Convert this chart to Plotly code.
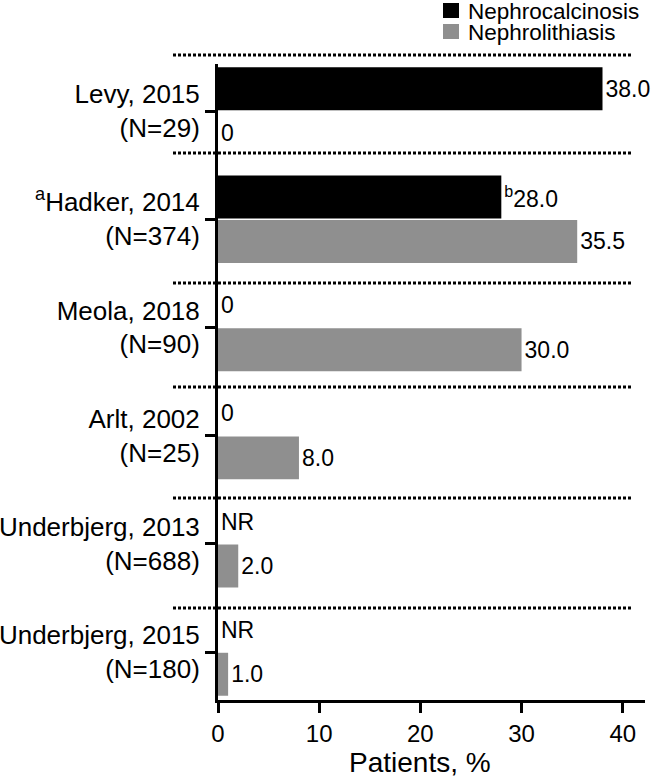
import plotly.graph_objects as go

# ---- data ----
studies = ["Levy, 2015<br>(N=29)", "<sup>a</sup>Hadker, 2014<br>(N=374)", "Meola, 2018<br>(N=90)",
           "Arlt, 2002<br>(N=25)", "Underbjerg, 2013<br>(N=688)", "Underbjerg, 2015<br>(N=180)"]
nephrocalcinosis = [38.0, 28.0, 0.0, 0.0, None, None]   # None = not reported
nephrolithiasis = [0.0, 35.5, 30.0, 8.0, 2.0, 1.0]
labels_calc = ["38.0", "<sup>b</sup>28.0", "0", "0", "NR", "NR"]
labels_lith = ["0", "35.5", "30.0", "8.0", "2.0", "1.0"]
x_ticks = [0, 10, 20, 30, 40]
series_names = ["Nephrocalcinosis", "Nephrolithiasis"]
series_colors = ["#000000", "#8f8f8f"]

FONT = "Liberation Sans, Arial, Helvetica, sans-serif"
W, H = 654, 778
ML, MR, MT, MB = 218, 9, 64, 78

fig = go.Figure()
for name, vals, labs, col in [(series_names[0], nephrocalcinosis, labels_calc, series_colors[0]),
                              (series_names[1], nephrolithiasis, labels_lith, series_colors[1])]:
    fig.add_trace(go.Bar(
        y=studies, x=[v if v is not None else 0 for v in vals], orientation="h",
        name=name, marker=dict(color=col, line=dict(width=0)),
        text=labs, textposition="outside", constraintext="none", cliponaxis=False,
        textfont=dict(family=FONT, size=23, color="black"), showlegend=False,
        hoverinfo="x+y+name"))

plot_h = H - MT - MB
plot_w = W - ML - MR


def py(pix):
    return (H - MB - pix) / plot_h


def px(pix):
    return (pix - ML) / plot_w


# dotted separators (pixel rows in the figure)
sep_rows = [55, 153, 283, 387, 498, 608]
shapes = []
for r in sep_rows:
    shapes.append(dict(type="line", xref="paper", yref="paper",
                       x0=px(173), x1=px(633), y0=py(r), y1=py(r),
                       line=dict(color="black", width=3, dash="3px,2px")))

# manual legend
annotations = []
for k, (name, col) in enumerate(zip(series_names, series_colors)):
    top = 3 + k * 21
    shapes.append(dict(type="rect", xref="paper", yref="paper",
                       x0=px(443), x1=px(459), y0=py(top), y1=py(top + 15),
                       fillcolor=col, line=dict(width=0)))
    annotations.append(dict(xref="paper", yref="paper", x=px(466), y=py(top + 8),
                            xanchor="left", yanchor="middle", text=name, showarrow=False,
                            font=dict(family=FONT, size=22.5, color="black")))

# x-axis title centred under 0-40
annotations.append(dict(xref="x", yref="paper", x=20, y=py(762),
                        xanchor="center", yanchor="middle", text="Patients, %", showarrow=False,
                        font=dict(family=FONT, size=28, color="black")))

# category index i sits at pixel 111 + 108.2*i
ytop = (MT - 111) / 108.2
ybot = (H - MB - 111) / 108.2

fig.update_layout(
    width=W, height=H, margin=dict(l=ML, r=MR, t=MT, b=MB, autoexpand=False),
    paper_bgcolor="white", plot_bgcolor="white",
    barmode="group", bargap=0.177, bargroupgap=0.035,
    font=dict(family=FONT, color="black"),
    shapes=shapes, annotations=annotations,
    xaxis=dict(range=[0, 42.2], tickvals=x_ticks, ticks="outside", ticklen=10, tickwidth=3,
               tickcolor="black", showline=True, linewidth=3, linecolor="black",
               showgrid=False, zeroline=False, tickfont=dict(family=FONT, size=24, color="black")),
    yaxis=dict(type="category", categoryorder="array", categoryarray=studies,
               range=[ybot, ytop], ticks="outside", ticklen=10, tickwidth=3, tickcolor="black",
               showline=True, linewidth=3, linecolor="black", showgrid=False, zeroline=False,
               tickfont=dict(family=FONT, size=26, color="black")),
)

fig.write_html("out.html", config={"displayModeBar": False},
               post_script="document.body.style.margin='0';document.body.style.overflow='hidden';")
